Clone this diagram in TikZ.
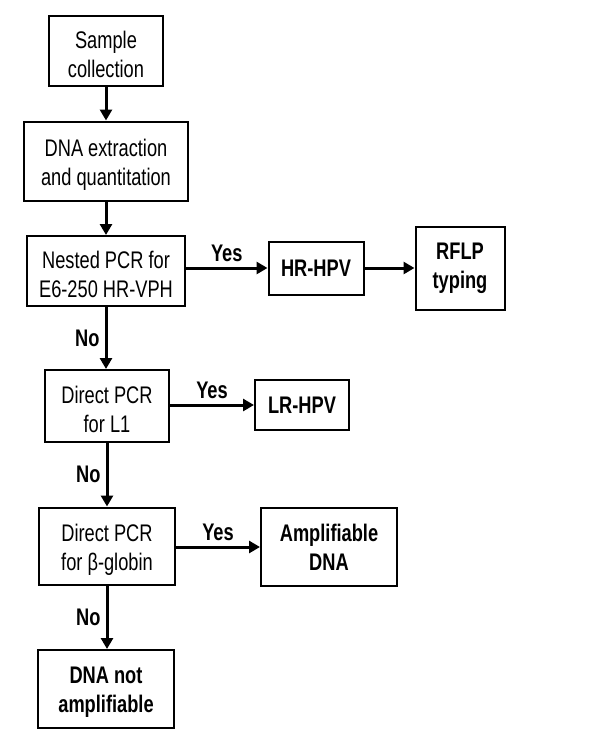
\documentclass[tikz,border=0pt]{standalone}
\usepackage{fontspec}
\setmainfont[FakeStretch=0.76]{Liberation Sans}
\usetikzlibrary{arrows.meta}
\tikzset{
    basebox/.style={draw, line width=2pt, align=center, inner sep=0pt},
    stepbox/.style={basebox, font=\fontsize{24}{29}\selectfont,
        execute at begin node={\rule{0pt}{54pt}}},
    resultbox/.style={basebox, font=\fontsize{24}{29}\selectfont\bfseries},
    flow/.style={line width=3pt, -{Triangle[length=11pt,width=12pt]}},
    answer/.style={font=\fontsize{24}{29}\selectfont\bfseries, inner sep=5pt}
}
\begin{document}
\begin{tikzpicture}[x=1pt,y=-1pt]
			\useasboundingbox (0,0) rectangle (600,753);
			% left column
			\node[stepbox, minimum width=114pt, minimum height=70pt] (sample) at (106,51) {Sample\\collection};
			\node[stepbox, minimum width=164pt, minimum height=79pt] (extract) at (106,161) {DNA extraction\\and quantitation};
			\node[stepbox, minimum width=158pt, minimum height=70pt] (nested) at (106,271) {Nested PCR for\\E6-250 HR-VPH};
			\node[stepbox, minimum width=124pt, minimum height=72pt] (directL) at (107,406) {Direct PCR\\for L1};
			\node[stepbox, minimum width=136pt, minimum height=77pt] (globin) at (107,546) {Direct PCR\\for β-globin};
			\node[resultbox, minimum width=136pt, minimum height=78pt,
			      execute at begin node={\rule{0pt}{52pt}}] (notampl) at (106,689) {DNA not\\amplifiable};
			% results
			\node[resultbox, minimum width=95pt, minimum height=53pt] (hrhpv) at (316,268) {HR-HPV};
			\node[resultbox, minimum width=89pt, minimum height=83pt] (rflp) at (460,268) {RFLP\\typing};
			\node[resultbox, minimum width=94pt, minimum height=50pt] (lrhpv) at (302,405) {LR-HPV};
			\node[resultbox, minimum width=136pt, minimum height=78pt] (ampl) at (329,547) {Amplifiable\\DNA};
			% connectors
			\draw[flow] (sample) -- (extract);
			\draw[flow] (extract) -- (nested);
			\draw[flow] (nested.east |- hrhpv.west) -- node[answer, above]{Yes} (hrhpv.west);
			\draw[flow] (hrhpv) -- (rflp);
			\draw[flow] (nested.south) -- node[answer, left]{No} (nested.south |- directL.north);
			\draw[flow] (directL.east |- lrhpv.west) -- node[answer, above]{Yes} (lrhpv.west);
			\draw[flow] (directL) -- node[answer, left]{No} (globin);
			\draw[flow] (globin.east |- ampl.west) -- node[answer, above]{Yes} (ampl.west);
			\draw[flow] (globin.south) -- node[answer, left]{No} (globin.south |- notampl.north);
	\end{tikzpicture}
\end{document}
